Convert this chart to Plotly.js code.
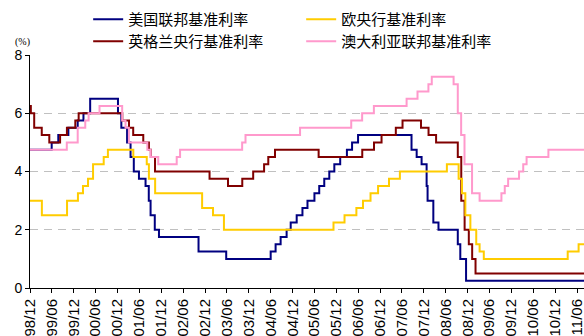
<!DOCTYPE html>
<html>
<head>
<meta charset="utf-8">
<script src="https://cdn.plot.ly/plotly-3.0.1.min.js"></script>
<style>html,body{margin:0;padding:0;background:#fff;}#chart{width:584px;height:336px;}</style>
</head>
<body>
<div id="chart"></div>
<script>
// Series names
const seriesNames = ['美国联邦基准利率', '欧央行基准利率', '英格兰央行基准利率', '澳大利亚联邦基准利率'];

// US Fed funds target rate (change dates, values %)
const usDates = ['1998-11-17','1999-06-30','1999-08-24','1999-11-16','2000-02-02','2000-03-21','2000-05-16','2001-01-03','2001-01-31','2001-03-20','2001-04-18','2001-05-15','2001-06-27','2001-08-21','2001-09-17','2001-10-02','2001-11-06','2001-12-11','2002-11-06','2003-06-25','2004-06-30','2004-08-10','2004-09-21','2004-11-10','2004-12-14','2005-02-02','2005-03-22','2005-05-03','2005-06-30','2005-08-09','2005-09-20','2005-11-01','2005-12-13','2006-01-31','2006-03-28','2006-05-10','2006-06-29','2007-09-18','2007-10-31','2007-12-11','2008-01-22','2008-01-30','2008-03-18','2008-04-30','2008-10-08','2008-10-29','2008-12-16','2011-08-31'];
const usVals = [4.75,5.00,5.25,5.50,5.75,6.00,6.50,6.00,5.50,5.00,4.50,4.00,3.75,3.50,3.00,2.50,2.00,1.75,1.25,1.00,1.25,1.50,1.75,2.00,2.25,2.50,2.75,3.00,3.25,3.50,3.75,4.00,4.25,4.50,4.75,5.00,5.25,4.75,4.50,4.25,3.50,3.00,2.25,2.00,1.50,1.00,0.25,0.25];

// ECB main refinancing rate
const ecbDates = ['1998-12-01','1999-04-09','1999-11-05','2000-02-04','2000-03-17','2000-04-28','2000-06-09','2000-09-06','2000-10-11','2001-05-11','2001-08-31','2001-09-18','2001-11-09','2002-12-06','2003-03-07','2003-06-06','2005-12-06','2006-03-08','2006-06-15','2006-08-09','2006-10-11','2006-12-13','2007-03-14','2007-06-13','2008-07-09','2008-10-15','2008-11-12','2008-12-10','2009-01-21','2009-03-11','2009-04-08','2009-05-13','2011-04-13','2011-07-13','2011-08-31'];
const ecbVals = [3.00,2.50,3.00,3.25,3.50,3.75,4.25,4.50,4.75,4.50,4.25,3.75,3.25,2.75,2.50,2.00,2.25,2.50,2.75,3.00,3.25,3.50,3.75,4.00,4.25,3.75,3.25,2.50,2.00,1.50,1.25,1.00,1.25,1.50,1.50];

// Bank of England base rate
const ukDates = ['1998-11-05','1998-12-10','1999-01-07','1999-02-04','1999-04-08','1999-06-10','1999-09-08','1999-11-04','2000-01-13','2000-02-10','2001-02-08','2001-04-05','2001-05-10','2001-08-02','2001-09-18','2001-10-04','2001-11-08','2003-02-06','2003-07-10','2003-11-06','2004-02-05','2004-05-06','2004-06-10','2004-08-05','2005-08-04','2006-08-03','2006-11-09','2007-01-11','2007-05-10','2007-07-05','2007-12-06','2008-02-07','2008-04-10','2008-10-08','2008-11-06','2008-12-04','2009-01-08','2009-02-05','2009-03-05','2011-08-31'];
const ukVals = [6.75,6.25,6.00,5.50,5.25,5.00,5.25,5.50,5.75,6.00,5.75,5.50,5.25,5.00,4.75,4.50,4.00,3.75,3.50,3.75,4.00,4.25,4.50,4.75,4.50,4.75,5.00,5.25,5.50,5.75,5.50,5.25,5.00,4.50,3.00,2.00,1.50,1.00,0.50,0.50];

// Reserve Bank of Australia cash rate
const auDates = ['1998-12-02','1999-11-03','2000-02-02','2000-04-05','2000-05-03','2000-08-02','2001-02-07','2001-03-07','2001-04-04','2001-09-05','2001-10-03','2001-12-05','2002-05-08','2002-06-05','2003-11-05','2003-12-03','2005-03-02','2006-05-03','2006-08-02','2006-11-08','2007-08-08','2007-11-07','2008-02-06','2008-03-05','2008-09-03','2008-10-08','2008-11-05','2008-12-03','2009-02-04','2009-04-08','2009-10-07','2009-11-04','2009-12-02','2010-03-03','2010-04-07','2010-05-05','2010-11-03','2011-08-31'];
const auVals = [4.75,5.00,5.50,5.75,6.00,6.25,5.75,5.50,5.00,4.75,4.50,4.25,4.50,4.75,5.00,5.25,5.50,5.75,6.00,6.25,6.50,6.75,7.00,7.25,7.00,6.00,5.25,4.25,3.25,3.00,3.25,3.50,3.75,4.00,4.25,4.50,4.75,4.75];

// X tick positions and labels
const tickDates = ['1998-12-31','1999-06-30','1999-12-31','2000-06-30','2000-12-31','2001-06-30','2001-12-31','2002-06-30','2002-12-31','2003-06-30','2003-12-31','2004-06-30','2004-12-31','2005-06-30','2005-12-31','2006-06-30','2006-12-31','2007-06-30','2007-12-31','2008-06-30','2008-12-31','2009-06-30','2009-12-31','2010-06-30','2010-12-31','2011-06-30'];
const tickLabels = ['98/12','99/06','99/12','00/06','00/12','01/06','01/12','02/06','02/12','03/06','03/12','04/06','04/12','05/06','05/12','06/06','06/12','07/06','07/12','08/06','08/12','09/06','09/12','10/06','10/12','11/06'];

const colors = ['#000080', '#FFCC00', '#800000', '#FF99CC'];

function mk(x, y, i, rank, leg) {
  return {x: x, y: y, name: seriesNames[i], type: 'scatter', mode: 'lines',
    line: {shape: 'hv', color: colors[i], width: 2}, legendrank: rank, legend: leg, hoverinfo: 'skip'};
}

const data = [
  mk(usDates, usVals, 0, 1, 'legend'),
  mk(ukDates, ukVals, 2, 1, 'legend2'),
  mk(ecbDates, ecbVals, 1, 2, 'legend'),
  mk(auDates, auVals, 3, 2, 'legend2')
];

const legFont = {family: 'Noto Sans CJK SC', size: 15, color: '#000'};
const legCommon = {
  orientation: 'h', xanchor: 'left', yanchor: 'middle',
  entrywidth: 168, entrywidthmode: 'pixels',
  font: legFont, bgcolor: 'rgba(0,0,0,0)', itemwidth: 30
};

const layout = {
  width: 584, height: 336,
  margin: {l: 30, r: 0, t: 55, b: 48},
  paper_bgcolor: '#fff', plot_bgcolor: '#fff',
  font: {family: 'Liberation Sans, Arial, sans-serif', size: 14, color: '#000'},
  showlegend: true,
  legend: Object.assign({}, legCommon, {x: 0.105, y: 1.152}),
  legend2: Object.assign({}, legCommon, {x: 0.105, y: 1.058}),
  xaxis: {
    type: 'date', range: ['1998-12-31', '2011-08-27'],
    tickmode: 'array', tickvals: tickDates, ticktext: tickLabels,
    tickangle: -90, ticks: 'outside', ticklen: 4, tickcolor: '#000',
    showline: true, linecolor: '#000', linewidth: 1, showgrid: false, zeroline: false,
    tickfont: {size: 15}, ticklabeloverflow: 'allow'
  },
  yaxis: {
    range: [0, 8], tickvals: [0, 2, 4, 6, 8], ticks: 'outside', ticklen: 4, tickcolor: '#000',
    showline: true, linecolor: '#000', linewidth: 1,
    showgrid: true, gridcolor: '#c0c0c0', griddash: '8px,6px', gridwidth: 1, zeroline: false,
    tickfont: {size: 14}
  },
  annotations: [{
    text: '(%)', xref: 'paper', yref: 'paper', x: -0.013, y: 1.055,
    xanchor: 'center', yanchor: 'middle', showarrow: false,
    font: {family: 'Liberation Serif, serif', size: 10, color: '#000'}
  }]
};

Plotly.newPlot('chart', data, layout, {displayModeBar: false, staticPlot: true});
</script>
</body>
</html>
